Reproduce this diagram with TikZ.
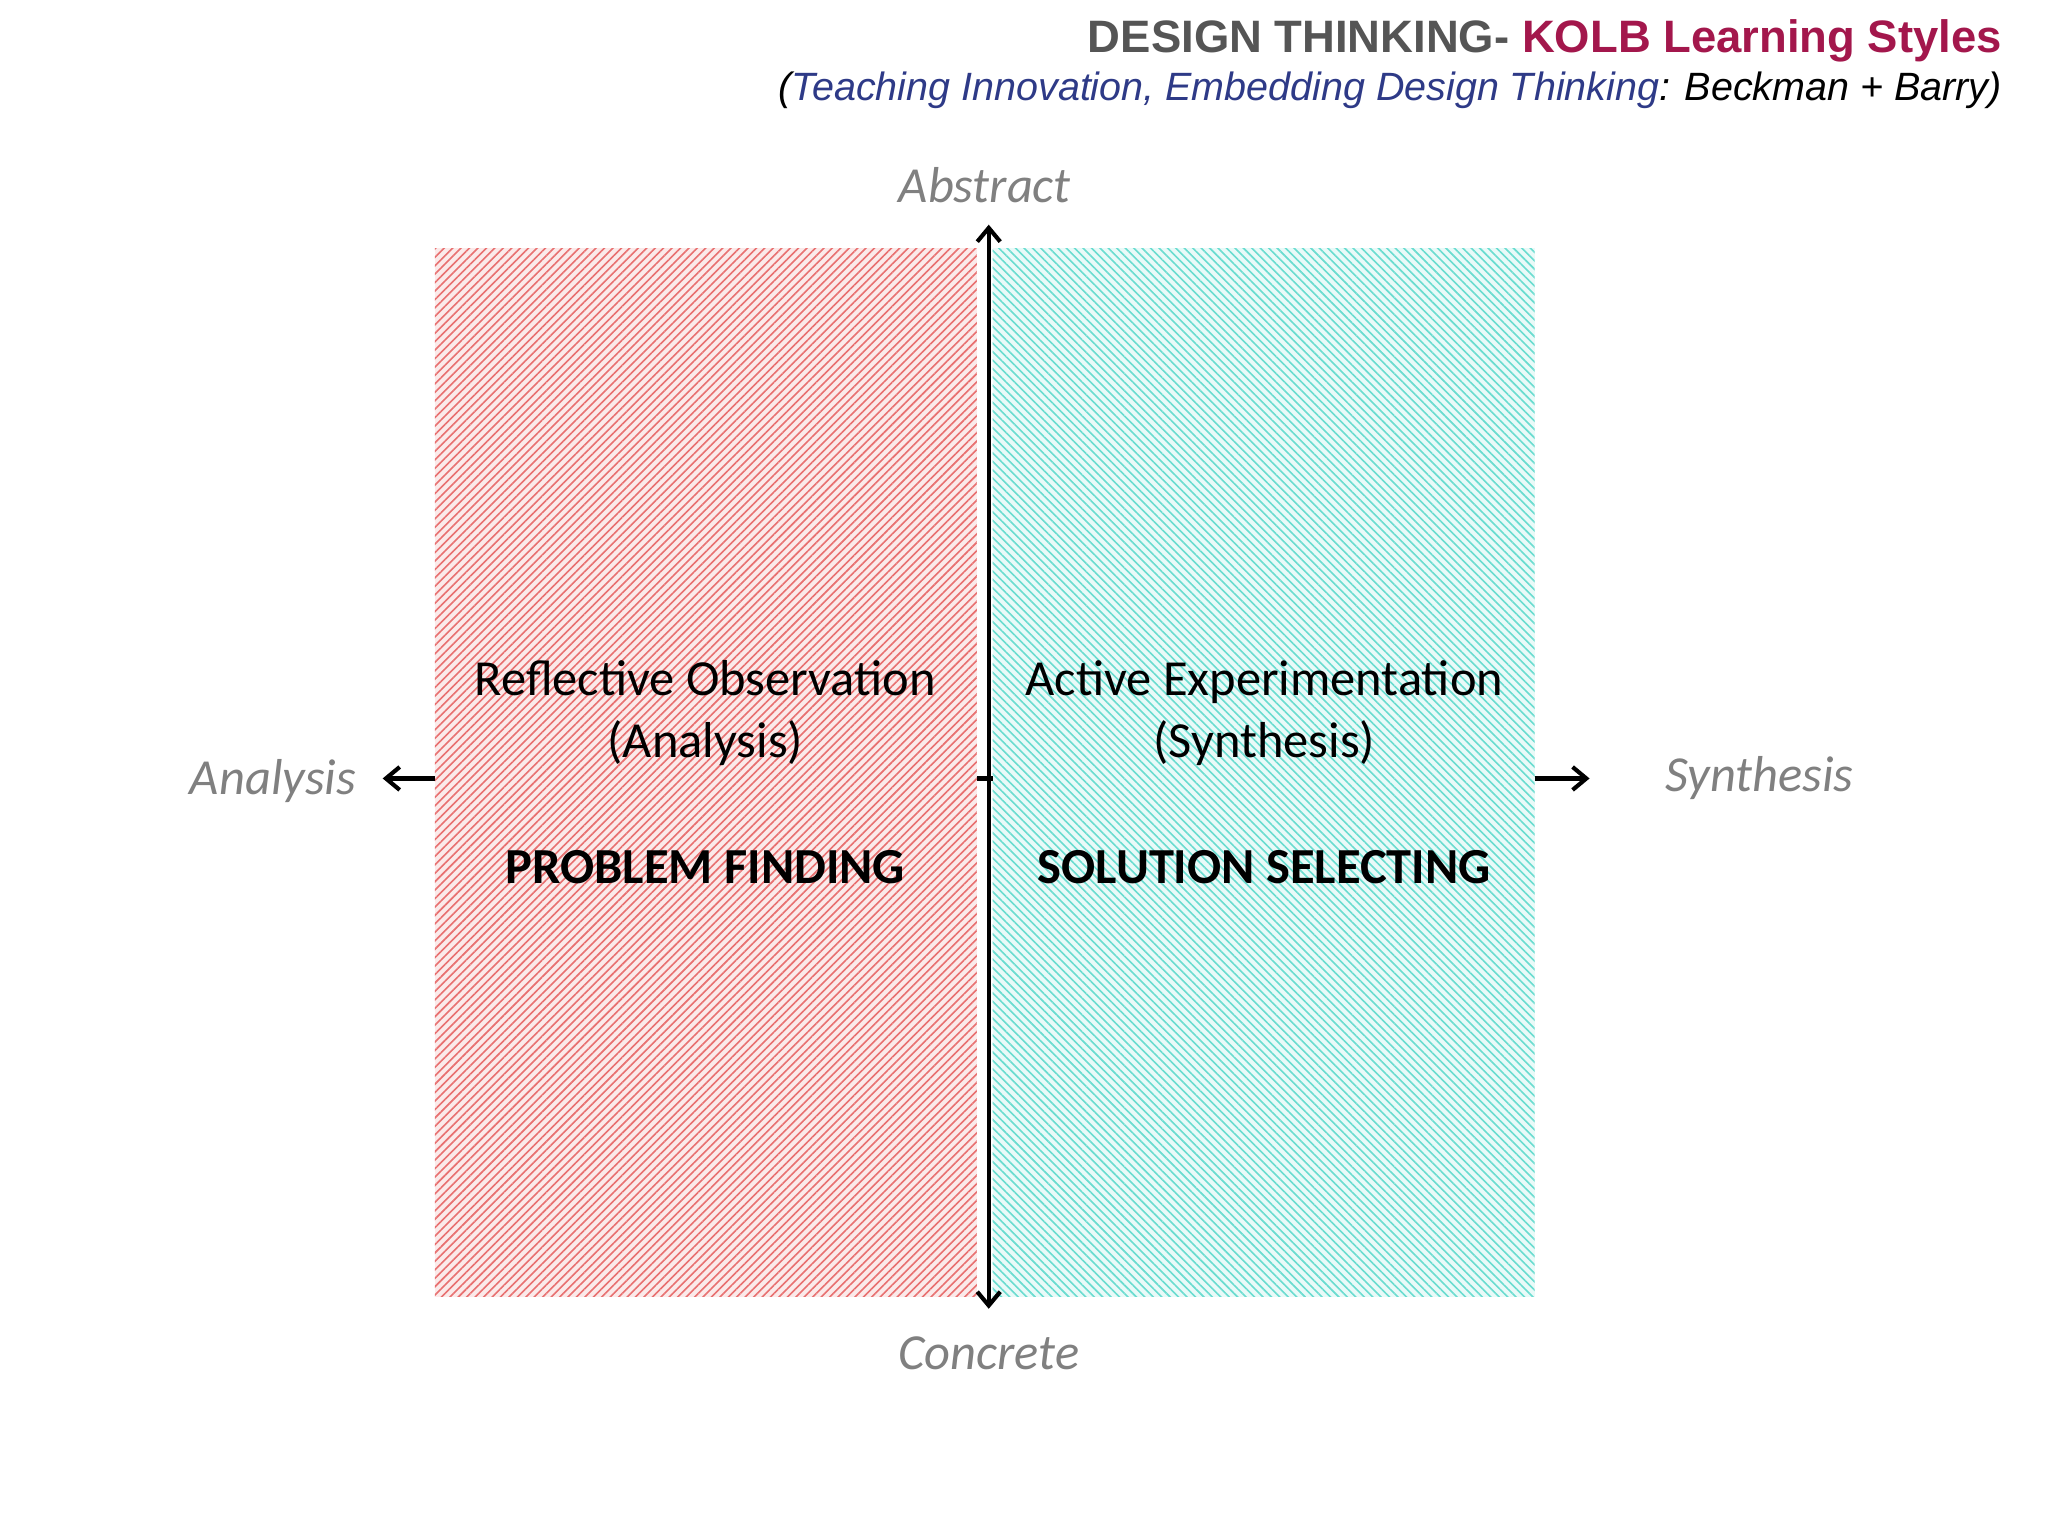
\documentclass[tikz,border=0pt]{standalone}
\usepackage{fontspec}
\setmainfont{Carlito}
\newfontfamily\arial{Liberation Sans}
\usetikzlibrary{patterns.meta,arrows.meta}
\definecolor{ttlgray}{HTML}{555555}
\definecolor{ttlred}{HTML}{A3174C}
\definecolor{ttlblue}{HTML}{2E3A87}
\definecolor{hatchred}{HTML}{E87070}
\definecolor{hatchcyan}{HTML}{6ADCD0}
\definecolor{axgray}{HTML}{808080}
\tikzset{
 axlabel/.style={font=\fontsize{22}{26}\selectfont\itshape, text=axgray},
 body/.style={font=\fontsize{22}{27}\selectfont, align=center},
 bold/.style={font=\fontsize{22}{27}\selectfont\bfseries},
 sarr/.style={line width=1.8pt, -{Straight Barb[length=6pt,width=10pt]}}
}
\begin{document}
\begin{tikzpicture}[x=0.02cm,y=-0.02cm]
\useasboundingbox (0,0) rectangle (1568,1176);
\fill[white] (0,0) rectangle (1568,1176);
% panels
\fill[hatchred!15] (333,190) rectangle (748,993);
\fill[pattern={Lines[angle=45,distance=2.6pt,line width=0.7pt]}, pattern color=hatchred] (333,190) rectangle (748,993);
\fill[hatchcyan!15] (760,190) rectangle (1175,993);
\fill[pattern={Lines[angle=-45,distance=2.6pt,line width=0.7pt]}, pattern color=hatchcyan] (760,190) rectangle (1175,993);
% nodes
\node[anchor=north east, inner sep=0, font=\arial\fontsize{19.8}{23}\selectfont\bfseries] (t1) at (1533,15) {\textcolor{ttlgray}{DESIGN THINKING-} \textcolor{ttlred}{KOLB Learning Styles}};
\node[anchor=north east, inner sep=0, font=\arial\fontsize{17.2}{20}\selectfont\itshape] (t2) at (1533,55) {(\textcolor{ttlblue}{Teaching Innovation, Embedding Design Thinking}: Beckman + Barry)};
\node[axlabel] (abs) at (754,142) {Abstract};
\node[axlabel] (con) at (757,1036) {Concrete};
\node[axlabel] (ana) at (209,598) {Analysis};
\node[axlabel] (syn) at (1347,596) {Synthesis};
\coordinate (top) at (757,172);
\coordinate (bot) at (757,1002);
\coordinate (lA) at (333,596);
\coordinate (lB) at (293,596);
\coordinate (rA) at (1175,596);
\coordinate (rB) at (1217,596);
\coordinate (tA) at (748,596);
\coordinate (tB) at (760,596);
\draw[line width=1.8pt, {Straight Barb[length=6pt,width=10pt]}-{Straight Barb[length=6pt,width=10pt]}] (bot) -- (top);
\draw[sarr] (lA) -- (lB);
\draw[sarr] (rA) -- (rB);
\draw[line width=1.8pt] (tA) -- (tB);
\node[body] (ro) at (540,546) {Reflective Observation\\(Analysis)};
\node[bold] (pf) at (540,664) {PROBLEM FINDING};
\node[body] (ae) at (968,546) {Active Experimentation\\(Synthesis)};
\node[bold] (ss) at (968,664) {SOLUTION SELECTING};
\end{tikzpicture}
\end{document}
